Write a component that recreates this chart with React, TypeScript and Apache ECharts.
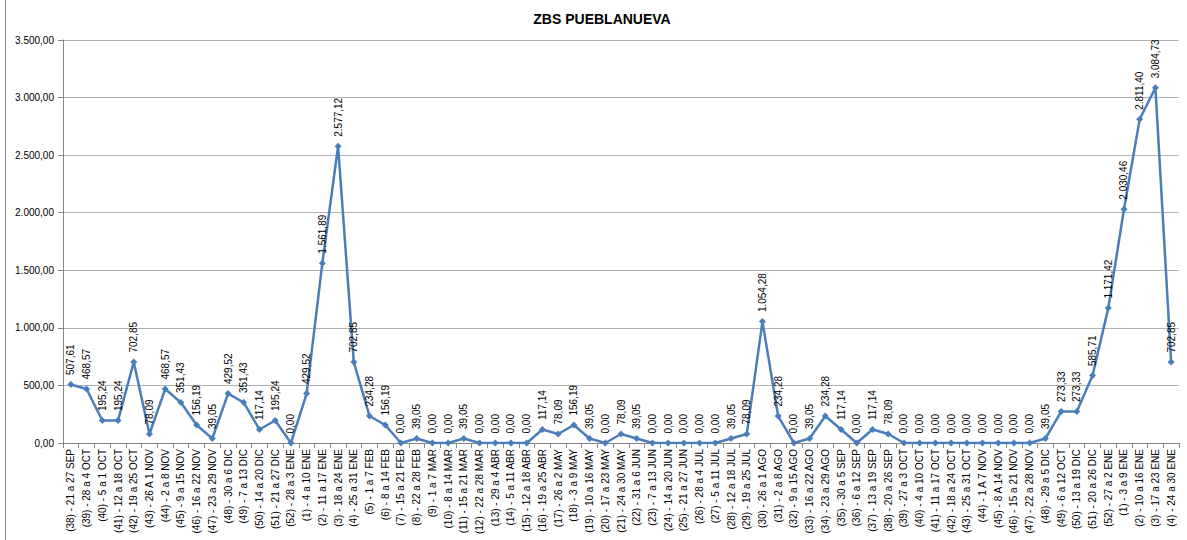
import React, { useEffect, useRef } from "react";
import * as echarts from "echarts";

const title = "ZBS PUEBLANUEVA";

const categories: string[] = [
  "(38) - 21 a 27 SEP", "(39) - 28 a 4 OCT", "(40) - 5 a 1 OCT", "(41) - 12 a 18 OCT",
  "(42) - 19 a 25 OCT", "(43) - 26 A 1 NOV", "(44) - 2 a 8 NOV", "(45) - 9 a 15 NOV",
  "(46) - 16 a 22 NOV", "(47) - 23 a 29 NOV", "(48) - 30 a 6 DIC", "(49) - 7 a 13 DIC",
  "(50) - 14 a 20 DIC", "(51) - 21 a 27 DIC", "(52) - 28 a 3 ENE", "(1) - 4 a 10 ENE",
  "(2) - 11 a 17 ENE", "(3) - 18 a 24 ENE", "(4) - 25 a 31 ENE", "(5) - 1 a 7 FEB",
  "(6) - 8 a 14 FEB", "(7) - 15 a 21 FEB", "(8) - 22 a 28 FEB", "(9) - 1 a 7 MAR",
  "(10) - 8 a 14 MAR", "(11) - 15 a 21 MAR", "(12) - 22 a 28 MAR", "(13) - 29 a 4 ABR",
  "(14) - 5 a 11 ABR", "(15) - 12 a 18 ABR", "(16) - 19 a 25 ABR", "(17) - 26 a 2 MAY",
  "(18) - 3 a 9 MAY", "(19) - 10 a 16 MAY", "(20) - 17 a 23 MAY", "(21) - 24 a 30 MAY",
  "(22) - 31 a 6 JUN", "(23) - 7 a 13 JUN", "(24) - 14 a 20 JUN", "(25) - 21 a 27 JUN",
  "(26) - 28 a 4 JUL", "(27) - 5 a 11 JUL", "(28) - 12 a 18 JUL", "(29) - 19 a 25 JUL",
  "(30) - 26 a 1 AGO", "(31) - 2 a 8 AGO", "(32) - 9 a 15 AGO", "(33) - 16 a 22 AGO",
  "(34) - 23 a 29 AGO", "(35) - 30 a 5 SEP", "(36) - 6 a 12 SEP", "(37) - 13 a 19 SEP",
  "(38) - 20 a 26 SEP", "(39) - 27 a 3 OCT", "(40) - 4 a 10 OCT", "(41) - 11 a 17 OCT",
  "(42) - 18 a 24 OCT", "(43) - 25 a 31 OCT", "(44) - 1 A 7 NOV", "(45) - 8 A 14 NOV",
  "(46) - 15 a 21 NOV", "(47) - 22 a 28 NOV", "(48) - 29 a 5 DIC", "(49) - 6 a 12 OCT",
  "(50) - 13 a 19 DIC", "(51) - 20 a 26 DIC", "(52) - 27 a 2 ENE", "(1) - 3 a 9 ENE",
  "(2) - 10 a 16 ENE", "(3) - 17 a 23 ENE", "(4) - 24 a 30 ENE",
];

const rates: number[] = [
  507.61, 468.57, 195.24, 195.24, 702.85, 78.09, 468.57, 351.43, 156.19, 39.05,
  429.52, 351.43, 117.14, 195.24, 0, 429.52, 1561.89, 2577.12, 702.85, 234.28,
  156.19, 0, 39.05, 0, 0, 39.05, 0, 0, 0, 0,
  117.14, 78.09, 156.19, 39.05, 0, 78.09, 39.05, 0, 0, 0,
  0, 0, 39.05, 78.09, 1054.28, 234.28, 0, 39.05, 234.28, 117.14,
  0, 117.14, 78.09, 0, 0, 0, 0, 0, 0, 0,
  0, 0, 39.05, 273.33, 273.33, 585.71, 1171.42, 2030.46, 2811.4, 3084.73,
  702.85,
];

const yMin = 0;
const yMax = 3500;
const yStep = 500;

function fmtEs(v: number): string {
  const fixed = Math.abs(v).toFixed(2);
  const [intPart, dec] = fixed.split(".");
  const withDots = intPart.replace(/\B(?=(\d{3})+(?!\d))/g, ".");
  return (v < 0 ? "-" : "") + withDots + "," + dec;
}

const FONT = "'Liberation Sans', Arial, sans-serif";

export default function App() {
  const ref = useRef<HTMLDivElement>(null);
  useEffect(() => {
    document.body.style.margin = "0";
    if (!ref.current) return;
    const chart = echarts.init(ref.current, undefined, { renderer: "svg" });
    chart.setOption({
      animation: false,
      backgroundColor: "#ffffff",
      title: {
        text: title,
        left: 597,
        top: 7,
        textAlign: "center",
        textStyle: { fontFamily: FONT, fontSize: 14, fontWeight: "bold", color: "#000" },
      },
      graphic: [
        {
          type: "line",
          shape: { x1: 5.5, y1: 0, x2: 5.5, y2: 540 },
          style: { stroke: "#8c8c8c", lineWidth: 1 },
        },
      ],
      grid: { left: 63, right: 8, top: 40, bottom: 97, containLabel: false },
      xAxis: {
        type: "category",
        data: categories,
        boundaryGap: true,
        axisLine: { lineStyle: { color: "#868686", width: 1 } },
        axisTick: { show: true, length: 5, lineStyle: { color: "#868686" } },
        axisLabel: {
          rotate: 90,
          interval: 0,
          margin: 6,
          fontFamily: FONT,
          fontSize: 10,
          color: "#000",
        },
        splitLine: { show: false },
      },
      yAxis: {
        type: "value",
        min: yMin,
        max: yMax,
        interval: yStep,
        axisLine: { show: true, lineStyle: { color: "#868686", width: 1 } },
        axisTick: { show: true, length: 5, lineStyle: { color: "#868686" } },
        axisLabel: {
          fontFamily: FONT,
          fontSize: 10,
          color: "#000",
          margin: 9,
          formatter: (v: number) => fmtEs(v),
        },
        splitLine: { show: true, lineStyle: { color: "#b3b3b3", width: 1 } },
      },
      series: [
        {
          type: "line",
          data: rates,
          symbol: "diamond",
          symbolSize: 7,
          showAllSymbol: true,
          itemStyle: { color: "#4a7ebb" },
          lineStyle: { color: "#4a7ebb", width: 2.5 },
          label: {
            show: true,
            position: "top",
            rotate: 90,
            align: "left",
            verticalAlign: "middle",
            distance: 6,
            fontFamily: FONT,
            fontSize: 10,
            color: "#000",
            formatter: (p: any) => fmtEs(p.value),
          },
          labelLayout: { hideOverlap: false },
        },
      ],
    });
    return () => chart.dispose();
  }, []);
  return <div ref={ref} style={{ width: 1187, height: 540 }} />;
}
